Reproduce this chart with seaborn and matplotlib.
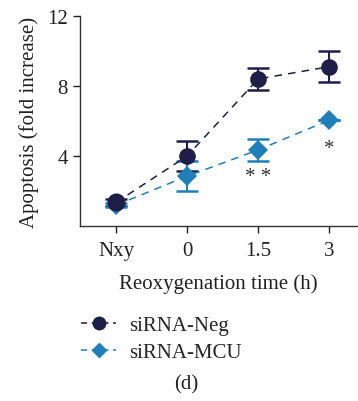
import matplotlib
matplotlib.use('Agg')
import matplotlib.pyplot as plt
import seaborn as sns
import numpy as np
import pandas as pd

# data
times = ['Nxy', '0', '1.5', '3']
neg_mean = [1.35, 4.0, 8.4, 9.1]
neg_err = [0.2, 0.85, 0.65, 0.9]
mcu_mean = [1.2, 2.85, 4.35, 6.05]
mcu_err = [0.1, 0.85, 0.65, 0.0]
sig_labels = ['', '', '* *', '*']

c_neg = '#1e1e48'
c_mcu = '#1f7fb9'

sns.set_theme(style='ticks')
plt.rcParams['font.family'] = ['Liberation Serif', 'DejaVu Serif']

df = pd.DataFrame({
    'x': list(range(len(times))) * 2,
    'value': neg_mean + mcu_mean,
    'group': ['siRNA-Neg'] * len(times) + ['siRNA-MCU'] * len(times),
})

fig = plt.figure(figsize=(3.58, 4.02), dpi=100)
ax = fig.add_axes([0.223, 0.435, 0.774, 0.523])

xs = np.arange(len(times))
ax.errorbar(xs, neg_mean, yerr=neg_err, fmt='none', ecolor=c_neg,
            elinewidth=1.5, capsize=8, capthick=1.8, zorder=2)
ax.errorbar(xs, mcu_mean, yerr=mcu_err, fmt='none', ecolor=c_mcu,
            elinewidth=1.5, capsize=8, capthick=1.8, zorder=2)

sns.lineplot(data=df[df.group == 'siRNA-Neg'], x='x', y='value', ax=ax,
             color=c_neg, marker='o', markersize=12, linewidth=1.1,
             dashes=(5, 4), markeredgewidth=0, zorder=3, legend=False)
sns.lineplot(data=df[df.group == 'siRNA-MCU'], x='x', y='value', ax=ax,
             color=c_mcu, marker='D', markersize=10, linewidth=1.1,
             dashes=(5, 4), markeredgewidth=0, zorder=4, legend=False)
# Neg marker sits on top at Nxy
ax.plot([0], [neg_mean[0]], 'o', color=c_neg, markersize=12, zorder=5)

for i, s in enumerate(sig_labels):
    if s:
        y = mcu_mean[i] - mcu_err[i] - 0.3 if mcu_err[i] else mcu_mean[i] - 1.1
        ax.text(xs[i], y, s, ha='center', va='top', fontsize=15, color='#333333')

ax.set_xlim(-0.51, 3.39)
ax.set_ylim(0, 12)
ax.set_yticks([4, 8, 12])
ax.set_xticks(xs)
ax.set_xticklabels(times)
ax.set_xlabel('Reoxygenation time (h)', fontsize=15, color='#222222', labelpad=9)
ax.set_ylabel('Apoptosis (fold increase)', fontsize=15, color='#222222', labelpad=6)
ax.tick_params(axis='both', labelsize=15, colors='#222222', length=5, width=1, direction='out')
ax.tick_params(axis='x', pad=6)
for sp in ['top', 'right']:
    ax.spines[sp].set_visible(False)
for sp in ['left', 'bottom']:
    ax.spines[sp].set_color('#333333')
    ax.spines[sp].set_linewidth(1)

h_neg = plt.Line2D([], [], color=c_neg, marker='o', markersize=9, linestyle=(0, (4, 3)), linewidth=1.1)
h_mcu = plt.Line2D([], [], color=c_mcu, marker='D', markersize=7.5, linestyle=(0, (4, 3)), linewidth=1.1)
fig.legend([h_neg, h_mcu], ['siRNA-Neg', 'siRNA-MCU'], loc='upper left',
           bbox_to_anchor=(0.185, 0.248), frameon=False, fontsize=15,
           handlelength=1.7, handletextpad=0.6, labelspacing=0.35, borderpad=0.2)

fig.text(0.52, 0.042, '(d)', ha='center', va='center', fontsize=15, color='#222222')

plt.savefig('out.png', dpi=100)
plt.close()
